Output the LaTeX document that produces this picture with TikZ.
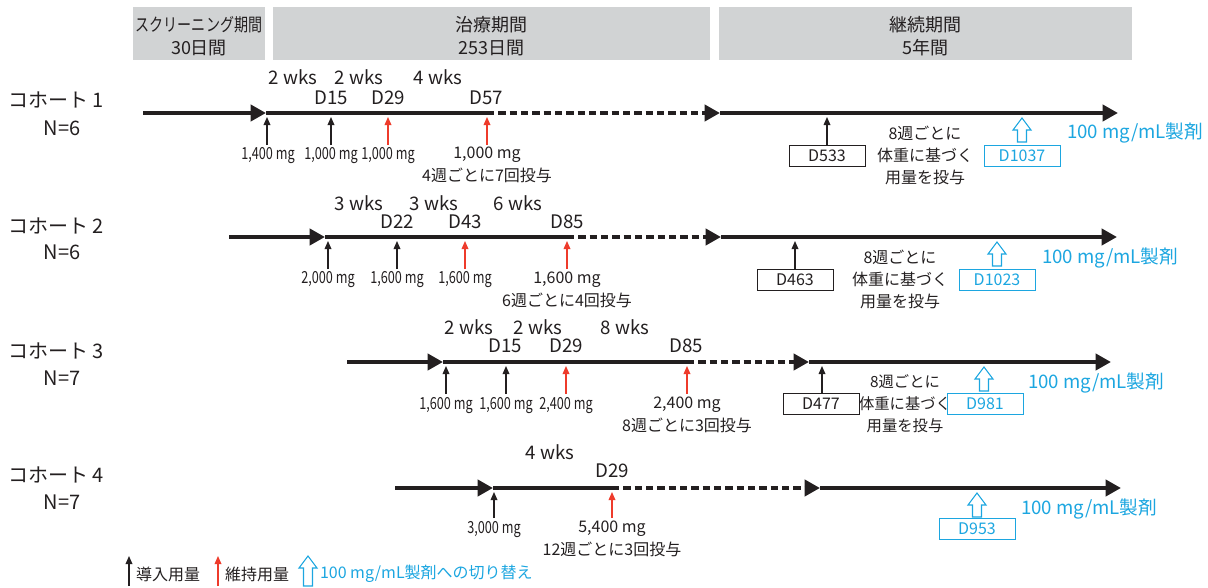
\documentclass[tikz,border=0pt]{standalone}
\usepackage{fontspec}
\setmainfont{Noto Sans CJK JP}
\usetikzlibrary{arrows.meta}
\definecolor{ink}{HTML}{231F20}
\definecolor{hdrgray}{HTML}{D1D3D4}
\definecolor{dred}{HTML}{EE3B2B}
\definecolor{cyanb}{HTML}{1CA6E0}
\newcommand\cnd[1]{\scalebox{0.76}[1]{#1}}
\newcommand\hollowup[2]{\draw[hollow] (#1) -- ++(9,12) -- ++(-4.5,0) -- ++(0,#2) -- ++(-9,0) -- ++(0,-#2) -- ++(-4.5,0) -- cycle;}
\begin{document}
\begin{tikzpicture}[x=0.75pt,y=-0.75pt,
  every node/.style={inner sep=0pt,outer sep=0pt,text=ink},
  hdr/.style={fill=hdrgray,minimum height=39.75pt},
  hdrtxt/.style={align=center,font=\fontsize{13.5}{17}\selectfont},
  cohort/.style={font=\fontsize{15}{17}\selectfont},
  wk/.style={font=\fontsize{14}{16}\selectfont},
  dosec/.style={font=\fontsize{12.5}{14}\selectfont},
  doseb/.style={font=\fontsize{12}{14}\selectfont},
  ext/.style={font=\fontsize{12}{16.5}\selectfont,align=center},
  dbox/.style={draw=ink,line width=0.6pt,minimum width=57pt,minimum height=15.75pt,font=\fontsize{12}{14}\selectfont},
  bbox/.style={dbox,draw=cyanb,text=cyanb},
  bluetxt/.style={text=cyanb,font=\fontsize{14}{16}\selectfont,anchor=west},
  mainline/.style={draw=ink,line width=3pt},
  bigtip/.style={-{Triangle[length=11.5pt,width=12pt]}},
  dashseg/.style={dash pattern=on 5.5pt off 3pt},
  upb/.style={draw=ink,line width=0.9pt,-{Triangle[length=6pt,width=5pt]}},
  upr/.style={upb,draw=dred},
  hollow/.style={draw=cyanb,line width=0.8pt,fill=white},
  lgd/.style={font=\fontsize{12}{14}\selectfont,anchor=west}
]
\useasboundingbox (0,0) rectangle (1208,587);

% header
\node[hdr,minimum width=99pt] (h1) at (199,33.5) {};
\node[hdr,minimum width=327.75pt] (h2) at (491.5,33.5) {};
\node[hdr,minimum width=309.75pt] (h3) at (925.5,33.5) {};
\node[hdrtxt] (h1t) at (199,36) {\scalebox{0.78}[1]{スクリーニング期間}\\30日間};
\node[hdrtxt] (h2t) at (491.5,36) {治療期間\\253日間};
\node[hdrtxt] (h3t) at (925.5,36) {継続期間\\5年間};

% ---------------- cohort 1 ----------------
\node[cohort] (k1) at (56,100) {コホート 1};
\node[cohort] (n1) at (62,128) {N=6};
\coordinate (c1s) at (143,113); \coordinate (c1t) at (266,113);
\coordinate (c1m) at (487,113); \coordinate (c1e) at (720,113);
\coordinate (c1f) at (1118,113);
\draw[mainline,bigtip] (c1s) -- (c1t);
\draw[mainline] (c1t) -- (c1m);
\draw[mainline,dashseg,bigtip] (c1m) -- (c1e);
\draw[mainline,bigtip] (c1e) -- (c1f);
\node[wk] (c1w1) at (293,77) {2 wks};
\node[wk] (c1w2) at (359,77) {2 wks};
\node[wk] (c1w3) at (438,77) {4 wks};
\node[wk] (c1d1) at (331,98) {D15};
\node[wk] (c1d2) at (388,98) {D29};
\node[wk] (c1d3) at (486,98) {D57};
\coordinate (c1p1) at (267,117); \coordinate (c1p2) at (331,117);
\coordinate (c1p3) at (388,117); \coordinate (c1p4) at (487,117);
\draw[upb] ([yshift=-21pt]c1p1) -- (c1p1);
\draw[upb] ([yshift=-21pt]c1p2) -- (c1p2);
\draw[upr] ([yshift=-21pt]c1p3) -- (c1p3);
\draw[upr] ([yshift=-21pt]c1p4) -- (c1p4);
\node[dosec] (c1l1) at (268,156) {\cnd{1,400 mg}};
\node[dosec] (c1l2) at (331,156) {\cnd{1,000 mg}};
\node[dosec] (c1l3) at (388,156) {\cnd{1,000 mg}};
\node[doseb] (c1l4) at (487,155) {1,000 mg};
\node[doseb] (c1l5) at (487,175) {4週ごとに7回投与};
\coordinate (c1x) at (827,117);
\node[dbox] (c1b1) at (827,155.5) {D533};
\draw[upb] (c1b1.north) -- (c1x);
\node[ext] (c1txt) at (925,155) {8週ごとに\\体重に基づく\\用量を投与};
\coordinate (c1h) at (1022,118);
\node[bbox] (c1b2) at (1022,155.5) {D1037};
\hollowup{c1h}{12}
\node[bluetxt] (c1bl) at (1067,133) {100 mg/mL製剤};

% ---------------- cohort 2 ----------------
\node[cohort] (k2) at (56,226) {コホート 2};
\node[cohort] (n2) at (62,252) {N=6};
\coordinate (c2s) at (229,237); \coordinate (c2t) at (325,237);
\coordinate (c2m) at (567,237); \coordinate (c2e) at (721,237);
\coordinate (c2f) at (1117,237);
\draw[mainline,bigtip] (c2s) -- (c2t);
\draw[mainline] (c2t) -- (c2m);
\draw[mainline,dashseg,bigtip] (c2m) -- (c2e);
\draw[mainline,bigtip] (c2e) -- (c2f);
\node[wk] (c2w1) at (359,203) {3 wks};
\node[wk] (c2w2) at (434,203) {3 wks};
\node[wk] (c2w3) at (518,203) {6 wks};
\node[wk] (c2d1) at (397,222) {D22};
\node[wk] (c2d2) at (465,222) {D43};
\node[wk] (c2d3) at (567,222) {D85};
\coordinate (c2p1) at (328,241); \coordinate (c2p2) at (397,241);
\coordinate (c2p3) at (465,241); \coordinate (c2p4) at (567,241);
\draw[upb] ([yshift=-21pt]c2p1) -- (c2p1);
\draw[upb] ([yshift=-21pt]c2p2) -- (c2p2);
\draw[upr] ([yshift=-21pt]c2p3) -- (c2p3);
\draw[upr] ([yshift=-21pt]c2p4) -- (c2p4);
\node[dosec] (c2l1) at (328,280) {\cnd{2,000 mg}};
\node[dosec] (c2l2) at (397,280) {\cnd{1,600 mg}};
\node[dosec] (c2l3) at (465,280) {\cnd{1,600 mg}};
\node[doseb] (c2l4) at (567,280) {1,600 mg};
\node[doseb] (c2l5) at (567,300) {6週ごとに4回投与};
\coordinate (c2x) at (795,241);
\node[dbox] (c2b1) at (795,280) {D463};
\draw[upb] (c2b1.north) -- (c2x);
\node[ext] (c2txt) at (900,279) {8週ごとに\\体重に基づく\\用量を投与};
\coordinate (c2h) at (997,242);
\node[bbox] (c2b2) at (997,280) {D1023};
\hollowup{c2h}{12}
\node[bluetxt] (c2bl) at (1042,258) {100 mg/mL製剤};

% ---------------- cohort 3 ----------------
\node[cohort] (k3) at (56,351) {コホート 3};
\node[cohort] (n3) at (62,378) {N=7};
\coordinate (c3s) at (347,362); \coordinate (c3t) at (443,362);
\coordinate (c3m) at (687,362); \coordinate (c3e) at (809,362);
\coordinate (c3f) at (1111,362);
\draw[mainline,bigtip] (c3s) -- (c3t);
\draw[mainline] (c3t) -- (c3m);
\draw[mainline,dashseg,bigtip] (c3m) -- (c3e);
\draw[mainline,bigtip] (c3e) -- (c3f);
\node[wk] (c3w1) at (469,327) {2 wks};
\node[wk] (c3w2) at (538,327) {2 wks};
\node[wk] (c3w3) at (625,327) {8 wks};
\node[wk] (c3d1) at (505,346) {D15};
\node[wk] (c3d2) at (566,346) {D29};
\node[wk] (c3d3) at (686,346) {D85};
\coordinate (c3p1) at (446,366); \coordinate (c3p2) at (506,366);
\coordinate (c3p3) at (566,366); \coordinate (c3p4) at (687,366);
\draw[upb] ([yshift=-21pt]c3p1) -- (c3p1);
\draw[upb] ([yshift=-21pt]c3p2) -- (c3p2);
\draw[upr] ([yshift=-21pt]c3p3) -- (c3p3);
\draw[upr] ([yshift=-21pt]c3p4) -- (c3p4);
\node[dosec] (c3l1) at (446,406) {\cnd{1,600 mg}};
\node[dosec] (c3l2) at (506,406) {\cnd{1,600 mg}};
\node[dosec] (c3l3) at (566,406) {\cnd{2,400 mg}};
\node[doseb] (c3l4) at (687,405) {2,400 mg};
\node[doseb] (c3l5) at (687,425) {8週ごとに3回投与};
\coordinate (c3x) at (822,366);
\node[dbox] (c3b1) at (821,404) {D477};
\draw[upb] (c3b1.north -| c3x) -- (c3x);
\node[ext,font=\fontsize{11.5}{16.5}\selectfont] (c3txt) at (905,404) {8週ごとに\\体重に基づく\\用量を投与};
\coordinate (c3h) at (984,367);
\node[bbox] (c3b2) at (985,404) {D981};
\hollowup{c3h}{12}
\node[bluetxt] (c3bl) at (1028,383) {100 mg/mL製剤};

% ---------------- cohort 4 ----------------
\node[cohort] (k4) at (56,475) {コホート 4};
\node[cohort] (n4) at (62,502) {N=7};
\coordinate (c4s) at (395,488); \coordinate (c4t) at (493,488);
\coordinate (c4m) at (612,488); \coordinate (c4e) at (820,488);
\coordinate (c4f) at (1121,488);
\draw[mainline,bigtip] (c4s) -- (c4t);
\draw[mainline] (c4t) -- (c4m);
\draw[mainline,dashseg,bigtip] (c4m) -- (c4e);
\draw[mainline,bigtip] (c4e) -- (c4f);
\node[wk] (c4w1) at (550,452) {4 wks};
\node[wk] (c4d1) at (612,471) {D29};
\coordinate (c4p1) at (494,492); \coordinate (c4p2) at (612,492);
\draw[upb] ([yshift=-19.5pt]c4p1) -- (c4p1);
\draw[upr] ([yshift=-19.5pt]c4p2) -- (c4p2);
\node[dosec] (c4l1) at (494,530) {\cnd{3,000 mg}};
\node[doseb] (c4l2) at (612,529) {5,400 mg};
\node[doseb] (c4l3) at (612,549) {12週ごとに3回投与};
\coordinate (c4h) at (977,493);
\node[bbox] (c4b2) at (977,528.5) {D953};
\hollowup{c4h}{12}
\node[bluetxt] (c4bl) at (1021,509) {100 mg/mL製剤};

% ---------------- legend ----------------
\coordinate (lg1) at (129,556);
\draw[upb] ([yshift=-22.5pt]lg1) -- (lg1);
\node[lgd] (lt1) at (136,574) {導入用量};
\coordinate (lg2) at (218,556);
\draw[upr] ([yshift=-22.5pt]lg2) -- (lg2);
\node[lgd] (lt2) at (225,574) {維持用量};
\coordinate (lg3) at (308,556);
\hollowup{lg3}{18}
\node[lgd,text=cyanb] (lt3) at (320,574) {100 mg/mL製剤への切り替え};
\end{tikzpicture}
\end{document}
